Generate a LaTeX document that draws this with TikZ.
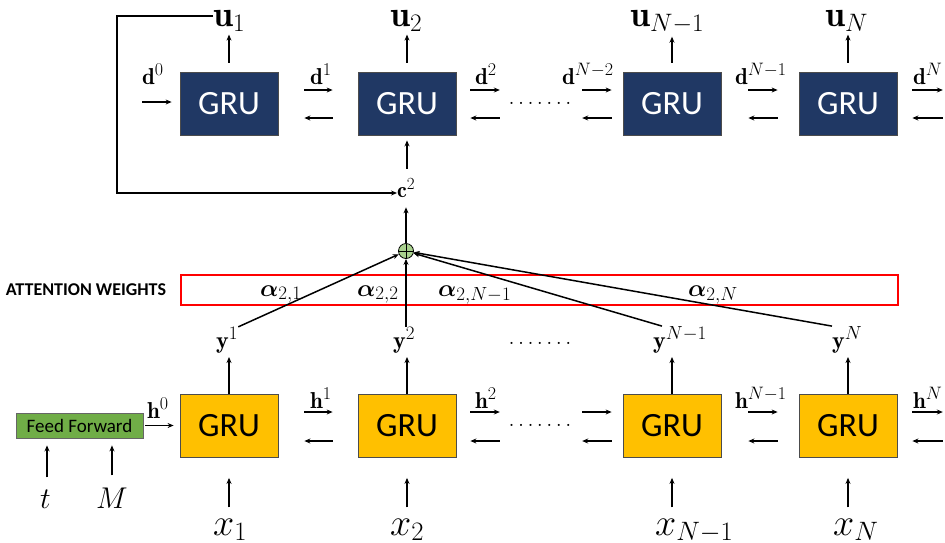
\RequirePackage{fix-cm}
\documentclass[tikz,border=0pt]{standalone}
\usepackage{amsmath,bm}
\usepackage{fontspec}
\newfontfamily\calib{Carlito}
\usetikzlibrary{arrows.meta,positioning,calc}
\DeclareMathSizes{22}{22}{17}{13}
\DeclareMathSizes{23}{23}{18}{14}
\DeclareMathSizes{24}{24}{19}{14}
\definecolor{cdec}{HTML}{203864}
\definecolor{cenc}{HTML}{FFC000}
\definecolor{cff}{HTML}{70AD47}
\definecolor{cplus}{HTML}{A9D18E}
\definecolor{cattn}{HTML}{FF0000}
\newcommand\dotrow{\hbox to 66pt{\xleaders\hbox to 9.4pt{\hss.\hss}\hfill}}
\tikzset{
  grubox/.style={draw=black!70, line width=0.8pt, minimum width=98pt,
                 minimum height=63pt, inner sep=0pt,
                 font=\calib\fontsize{34}{36}\selectfont},
  ndec/.style={grubox, fill=cdec, text=white},
  nenc/.style={grubox, fill=cenc, text=black},
  nff/.style={draw=black!60, line width=0.8pt, fill=cff, minimum width=127pt,
              minimum height=25pt, inner sep=0pt,
              font=\calib\fontsize{19}{21}\selectfont},
  nplus/.style={circle, draw, fill=cplus, minimum size=15pt, inner sep=0pt,
                line width=0.8pt, path picture={
                  \draw[line width=0.8pt] (path picture bounding box.north) -- (path picture bounding box.south)
                    (path picture bounding box.west) -- (path picture bounding box.east);}},
  nattn/.style={draw=cattn, line width=1.6pt, minimum width=717pt,
                minimum height=30pt, inner sep=0pt},
  lbl/.style={inner sep=0pt, anchor=base west},
  ulbl/.style={lbl, font=\fontsize{36}{40}\selectfont},
  xlbl/.style={lbl, font=\fontsize{38}{42}\selectfont},
  tlbl/.style={lbl, font=\fontsize{30}{32}\selectfont},
  dlbl/.style={lbl, font=\fontsize{23}{25}\selectfont},
  ylbl/.style={lbl, font=\fontsize{24}{26}\selectfont},
  clbl/.style={lbl, font=\fontsize{22}{24}\selectfont},
  dots/.style={inner sep=0pt, font=\fontsize{26}{28}\selectfont},
  pt0/.style={inner sep=0pt, minimum size=0pt},
  flow/.style={-{Stealth[length=6pt,width=5pt]}, line width=1.5pt},
  fback/.style={flow, line width=2.2pt},
}
\begin{document}
\begin{tikzpicture}[x=1pt, y=-1pt]
  \useasboundingbox (0,0) rectangle (945,542);
  % GRU chains
  \foreach \i/\x in {1/229, 2/407, 3/672, 4/848} {
    \node[ndec] (dec\i) at (\x,103.5) {GRU};
    \node[nenc] (enc\i) at (\x,426) {GRU};
  }
  \node[pt0] (decdL) at (500,103.5) {};
  \node[pt0] (decdR) at (582,103.5) {};
  \node[pt0] (decend) at (943,103.5) {};
  \node[pt0] (encdL) at (500,426) {};
  \node[pt0] (encdR) at (582,426) {};
  \node[pt0] (encend) at (943,426) {};
  \node[dots] (decdots) at (540,103) {\dotrow};
  \node[dots] (encdots) at (540,425) {\dotrow};
  \node[dots] (ydots) at (540,343) {\dotrow};

  % hidden states, both ways
  \foreach \r/\u/\d in {dec/13.5pt/-14.5pt, enc/14pt/-15pt}
    \foreach \a/\b/\sa/\sb in {1/2/26pt/25pt, 2/dL/14pt/0pt, dR/3/0pt/11pt, 3/4/27pt/21pt, 4/end/15pt/0pt} {
      \draw[flow, shorten <=\sa, shorten >=\sb] ([yshift=\u]\r\a.east) -- ([yshift=\u]\r\b.west);
      \draw[flow, shorten <=\sb, shorten >=\sa] ([yshift=\d]\r\b.west) -- ([yshift=\d]\r\a.east);
    }

  % state labels
  \foreach \n/\x/\t in {0/142/0, 1/310/1, 2/475/2, 3/562/N-2, 4/735/N-1, 5/913/N}
    \node[dlbl] (dl\n) at (\x,84) {$\mathbf{d}^{\t}$};
  \node[dlbl] (hl0) at (147,418) {$\mathbf{h}^{0}$};
  \foreach \n/\x/\t in {1/310/1, 2/475/2, 4/735/N-1, 5/913/N}
    \node[dlbl] (hl\n) at (\x,408) {$\mathbf{h}^{\t}$};
  \node[pt0] (din) at (142,102) {};
  \draw[flow, shorten >=8pt] (din) -- (din -| dec1.west);

  % decoder outputs
  \node[ulbl] (u1) at (213,26) {$\mathbf{u}_1$};
  \node[ulbl] (u2) at (390,26) {$\mathbf{u}_2$};
  \node[ulbl] (u3) at (630,26) {$\mathbf{u}_{N-1}$};
  \node[ulbl] (u4) at (825,26) {$\mathbf{u}_N$};
  \foreach \i in {1,...,4}
    \draw[flow, shorten <=9pt, shorten >=3pt] (dec\i.north) -- (dec\i.north |- u\i.south);

  % context
  \node[clbl] (c2) at (397,197) {$\mathbf{c}^2$};
  \node[nplus] (plus) at (406,251) {};
  \coordinate (fbl) at (117,193);
  \draw[fback, -{Stealth[length=6pt,width=5pt]}] ([yshift=5pt]u1.west) -| (fbl) -- (fbl -| c2.west);
  \draw[flow, shorten >=10pt] (plus) -- (plus |- c2.south);
  \draw[flow, shorten <=9pt, shorten >=5pt] (dec2.south |- c2.north) -- (dec2.south);

  % attention
  \node[nattn] (attn) at (539.5,290) {};
  \node[inner sep=0pt, left=14pt of attn, font=\calib\bfseries\fontsize{18}{20}\selectfont] (attnl) {ATTENTION WEIGHTS};
  \node[ylbl] (a1) at (260,296) {$\bm{\alpha}_{2,1}$};
  \node[ylbl] (a2) at (357,296) {$\bm{\alpha}_{2,2}$};
  \node[ylbl] (a3) at (438,296) {$\bm{\alpha}_{2,N-1}$};
  \node[ylbl] (a4) at (688,296) {$\bm{\alpha}_{2,N}$};

  % encoder outputs
  \node[ylbl] (y1) at (216,348) {$\mathbf{y}^1$};
  \node[ylbl] (y2) at (393,348) {$\mathbf{y}^2$};
  \node[ylbl] (y3) at (653,348) {$\mathbf{y}^{N-1}$};
  \node[ylbl] (y4) at (832,348) {$\mathbf{y}^N$};
  \foreach \i in {1,...,4}
    \draw[flow, shorten >=4pt] (enc\i.north) -- (enc\i.north |- y\i.south);
  \draw[flow] (y1.north east) -- (plus);
  \draw[flow] (y2.north -| plus) -- (plus);
  \draw[flow] ([xshift=9pt]y3.north west) -- (plus);
  \draw[flow] (y4.north west) -- (plus);

  % inputs
  \node[xlbl] (x1) at (213,535) {$x_1$};
  \node[xlbl] (x2) at (390,535) {$x_2$};
  \node[xlbl] (x3) at (655,535) {$x_{N-1}$};
  \node[xlbl] (x4) at (833,535) {$x_N$};
  \foreach \i in {1,...,4}
    \draw[flow, shorten <=11pt, shorten >=20pt] (enc\i.south |- x\i.north) -- (enc\i.south);

  % initial state
  \node[nff] (ff) at (79.5,425.5) {Feed Forward};
  \node[tlbl] (tin) at (40,508) {$t$};
  \node[tlbl] (min) at (96,508) {$M$};
  \draw[flow, shorten <=12pt, shorten >=7pt] ([xshift=1.5pt]tin.north) -- ([xshift=1.5pt]tin.north |- ff.south);
  \draw[flow, shorten <=12pt, shorten >=7pt] (min.north) -- (min.north |- ff.south);
  \draw[flow, shorten <=2pt, shorten >=6pt] (ff.east) -- (ff.east -| enc1.west);
\end{tikzpicture}
\end{document}
